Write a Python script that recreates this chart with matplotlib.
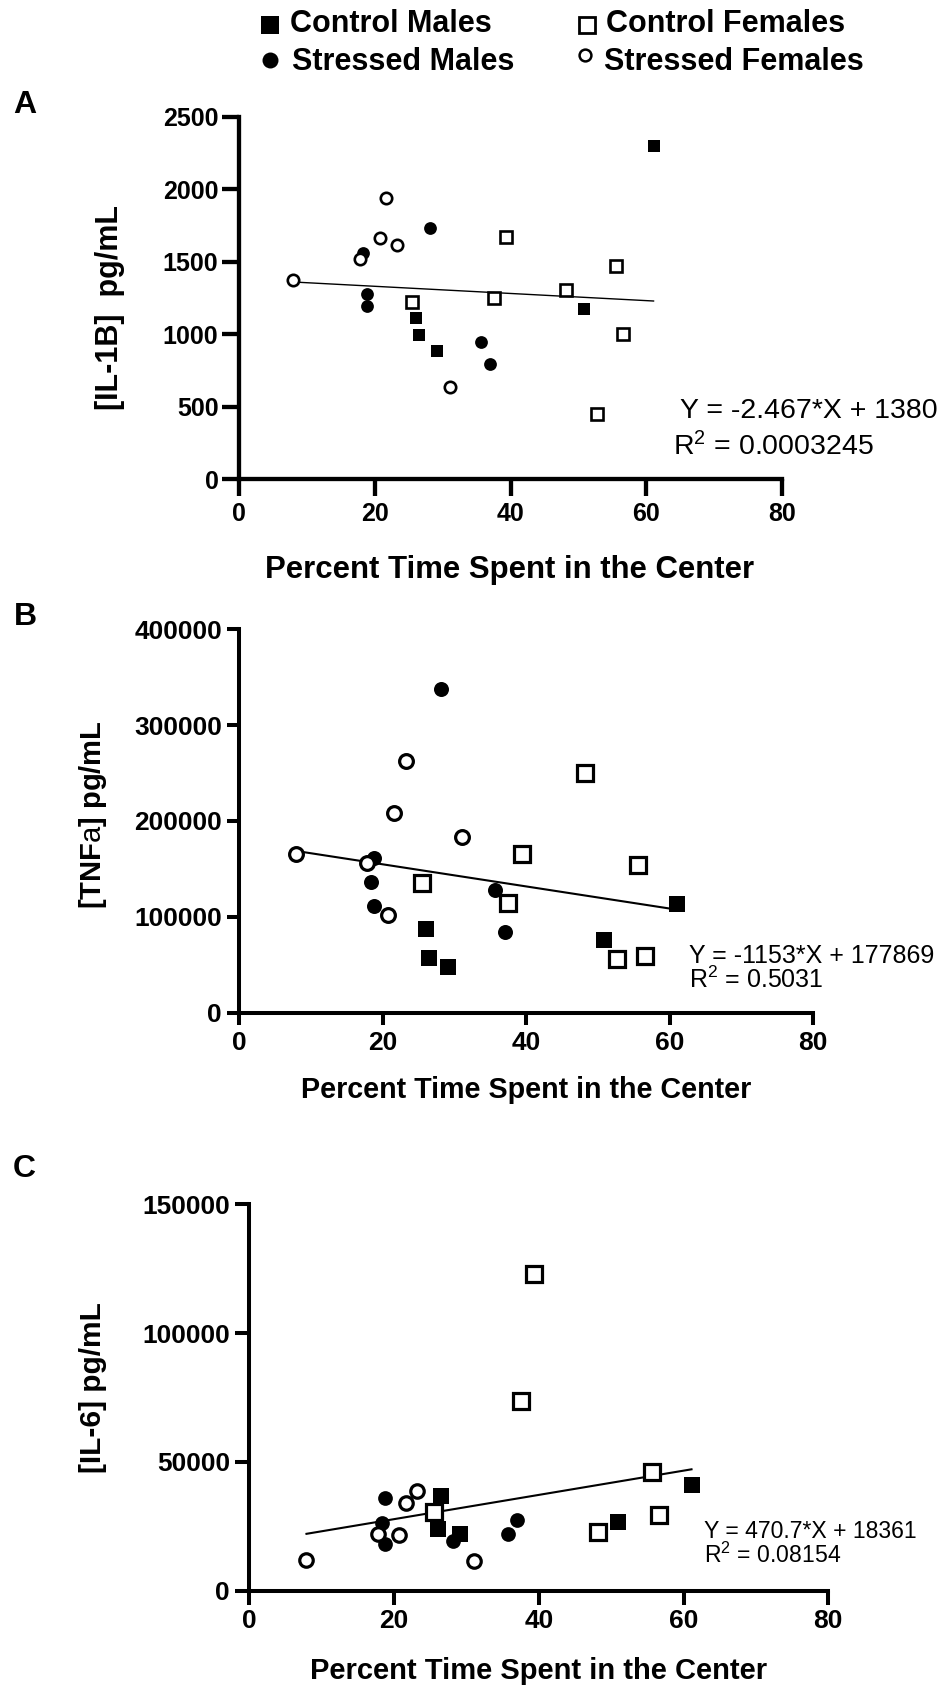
import numpy as np
import matplotlib
matplotlib.use("Agg")
import matplotlib.pyplot as plt
from matplotlib.lines import Line2D

plt.rcParams['font.family'] = ['Liberation Sans', 'DejaVu Sans']
plt.rcParams['mathtext.fontset'] = 'custom'
plt.rcParams['mathtext.rm'] = 'Liberation Sans'
plt.rcParams['mathtext.bf'] = 'Liberation Sans:bold'
plt.rcParams['mathtext.it'] = 'Liberation Sans:italic'

# ---------------- data ----------------
groups = ["Control Males", "Control Females", "Stressed Males", "Stressed Females"]

x_ctrl_m = [26.1, 26.5, 29.1, 50.9, 61.1]
x_ctrl_f = [25.5, 37.5, 39.4, 48.2, 52.7, 55.6, 56.6]
x_str_m = [18.3, 18.8, 18.8, 28.1, 35.7, 37.0]
x_str_f = [7.9, 17.8, 20.7, 21.6, 23.2, 31.1]

il1b_ctrl_m = [1110, 993, 887, 1175, 2299]
il1b_ctrl_f = [1221, 1253, 1669, 1304, 448, 1471, 1000]
il1b_str_m = [1559, 1278, 1195, 1731, 945, 793]
il1b_str_f = [1375, 1520, 1662, 1938, 1612, 635]

tnf_ctrl_m = [87000, 57400, 47300, 75800, 113400]
tnf_ctrl_f = [135600, 114100, 165600, 249700, 56000, 154100, 59100]
tnf_str_m = [136700, 161000, 111300, 337400, 128000, 84500]
tnf_str_f = [165600, 156500, 102300, 208700, 262200, 182900]

il6_ctrl_m = [23900, 36800, 22200, 26500, 41200]
il6_ctrl_f = [30400, 73500, 123100, 22600, np.nan, 46000, 29300]
il6_str_m = [26400, 35800, 18000, 19300, 22200, 27400]
il6_str_f = [11900, 22200, 21800, 33900, 38600, 11500]

fit_slope = [-2.467, -1153, 470.7]
fit_intercept = [1380, 177869, 18361]
fit_eq = ["Y = -2.467*X + 1380", "Y = -1153*X + 177869", "Y = 470.7*X + 18361"]
fit_r2 = ["0.0003245", "0.5031", "0.08154"]

x_ticks = [0, 20, 40, 60, 80]
y_ticks_a = [0, 500, 1000, 1500, 2000, 2500]
y_ticks_b = [0, 100000, 200000, 300000, 400000]
y_ticks_c = [0, 50000, 100000, 150000]

ylabels = ["[IL-1B]  pg/mL", r"$\mathbf{[TNF}\mathrm{a}\mathbf{]\ pg/mL}$", "[IL-6] pg/mL"]
xlabel = "Percent Time Spent in the Center"
panel_letters = ["A", "B", "C"]

# ---------------- layout ----------------
W, H = 947, 1687
fig = plt.figure(figsize=(W / 100, H / 100), dpi=100)


def fx(p):
    return p / W


def fy(p):
    return 1 - p / H


def rect(l, r, t, b):
    return [fx(l), fy(b), (r - l) / W, (b - t) / H]


panels = [
    dict(rect=rect(239.3, 781.7, 116.7, 479.3), yt=y_ticks_a,
         data=[il1b_ctrl_m, il1b_ctrl_f, il1b_str_m, il1b_str_f],
         spine=3.1, tlen=12, tpad=3, xpad=4, tsize=18, fill_sq=9.2, fill_ci=9.2,
         open_sq=8.0, open_ci=8.2, mew=1.9, lw=1.0,
         ylab=(110, 307, 22), xlab=(510, 578, 22.4), letter=(13, 113),
         eq=((680, 418), (673, 455), 20.5)),
    dict(rect=rect(239.3, 813.0, 629.3, 1012.7), yt=y_ticks_b,
         data=[tnf_ctrl_m, tnf_ctrl_f, tnf_str_m, tnf_str_f],
         spine=2.9, tlen=8.5, tpad=4, xpad=5, tsize=19, fill_sq=11.5, fill_ci=10.8,
         open_sq=11.2, open_ci=9.9, mew=2.3, lw=1.5,
         ylab=(93, 815, 21), xlab=(526, 1098, 20.6), letter=(14, 625),
         eq=((689, 963), (689, 988), 18)),
    dict(rect=rect(249.3, 828.3, 1204.3, 1590.7), yt=y_ticks_c,
         data=[il6_ctrl_m, il6_ctrl_f, il6_str_m, il6_str_f],
         spine=2.9, tlen=10, tpad=4, xpad=3, tsize=19, fill_sq=11.5, fill_ci=10.6,
         open_sq=11.2, open_ci=9.7, mew=2.3, lw=1.5,
         ylab=(93, 1388, 21.5), xlab=(539, 1679, 21), letter=(13, 1177),
         eq=((704, 1538), (704, 1563), 16.6)),
]

xs = [x_ctrl_m, x_ctrl_f, x_str_m, x_str_f]
all_x = np.concatenate([np.asarray(v, float) for v in xs])

for i, p in enumerate(panels):
    ax = fig.add_axes(p["rect"])
    cm, cf, sm, sf = p["data"]
    ax.plot(x_ctrl_m, cm, ls='none', marker='s', ms=p["fill_sq"], mfc='black', mec='black', mew=0, clip_on=False, zorder=3)
    ax.plot(x_str_m, sm, ls='none', marker='o', ms=p["fill_ci"], mfc='black', mec='black', mew=0, clip_on=False, zorder=3)
    ax.plot(x_ctrl_f, cf, ls='none', marker='s', ms=p["open_sq"], mfc='white', mec='black', mew=p["mew"], clip_on=False, zorder=4)
    ax.plot(x_str_f, sf, ls='none', marker='o', ms=p["open_ci"], mfc='white', mec='black', mew=p["mew"], clip_on=False, zorder=4)
    xl = np.array([all_x.min(), all_x.max()])
    ax.plot(xl, fit_slope[i] * xl + fit_intercept[i], color='black', lw=p["lw"], zorder=2)

    ax.set_xlim(0, 80)
    ax.set_ylim(0, p["yt"][-1])
    ax.set_xticks(x_ticks)
    ax.set_yticks(p["yt"])
    ax.set_xticklabels([str(t) for t in x_ticks])
    ax.set_yticklabels([str(t) for t in p["yt"]])
    for s in ['top', 'right']:
        ax.spines[s].set_visible(False)
    for s in ['left', 'bottom']:
        ax.spines[s].set_linewidth(p["spine"])
    ax.tick_params(axis='both', width=p["spine"], length=p["tlen"], labelsize=p["tsize"])
    ax.tick_params(axis='y', pad=p["tpad"])
    ax.tick_params(axis='x', pad=p["xpad"])
    for lab in ax.get_xticklabels() + ax.get_yticklabels():
        lab.set_fontweight('bold')

    # labels
    yx, yy, ys = p["ylab"]
    fig.text(fx(yx), fy(yy), ylabels[i], rotation=90, ha='center', va='center',
             fontsize=ys, fontweight='bold')
    lx, ly, ls_ = p["xlab"]
    fig.text(fx(lx), fy(ly), xlabel, ha='center', va='baseline', fontsize=ls_, fontweight='bold')
    tx, ty = p["letter"]
    fig.text(fx(tx), fy(ty), panel_letters[i], ha='left', va='baseline', fontsize=23, fontweight='bold')
    (e1x, e1y), (e2x, e2y), es = p["eq"]
    fig.text(fx(e1x), fy(e1y), fit_eq[i], ha='left', va='baseline', fontsize=es)
    fig.text(fx(e2x), fy(e2y), "R$^2$ = " + fit_r2[i], ha='left', va='baseline', fontsize=es)

# ---------------- legend ----------------
leg_items = [
    (groups[0], 's', 'black', 12.5, 0, (270, 24.5), (290, 24.5)),
    (groups[1], 's', 'white', 11.0, 2.0, (587, 24.5), (606, 24.5)),
    (groups[2], 'o', 'black', 11.5, 0, (270, 60), (292, 62)),
    (groups[3], 'o', 'white', 8.5, 1.8, (585, 55), (604, 62)),
]
for name, mk, fc, ms, mew, (mx, my), (tx, ty) in leg_items:
    fig.add_artist(Line2D([fx(mx)], [fy(my)], transform=fig.transFigure, ls='none', marker=mk,
                          ms=ms, mfc=fc, mec='black', mew=mew))
    fig.text(fx(tx), fy(ty), name, ha='left', va='center', fontsize=22, fontweight='bold')

fig.savefig("out.png", dpi=100)
